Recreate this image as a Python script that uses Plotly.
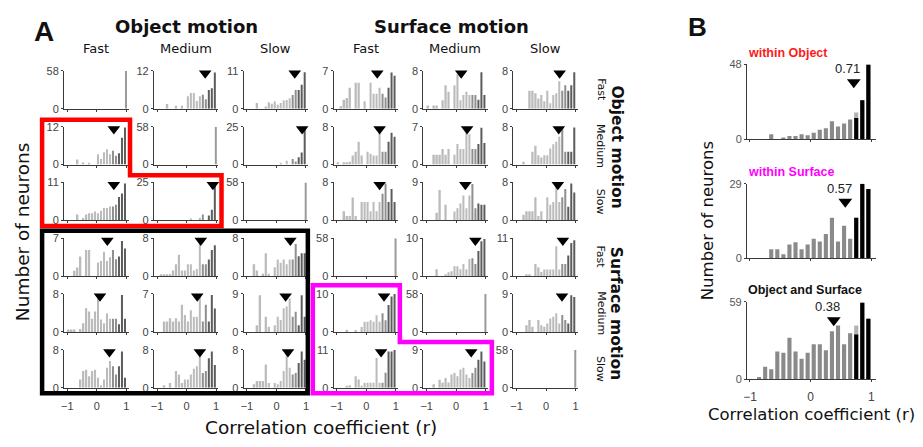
import plotly.graph_objects as go

# ---------------- DATA ----------------
bin_centers = [round(-0.95 + 0.1 * i, 2) for i in range(20)]
speeds = ["Fast", "Medium", "Slow"]
tick_vals = [-1, 0, 1]

diag_r = 1.0
diag_count = 58

# Panel A: rows = Object Fast/Medium/Slow, Surface Fast/Medium/Slow; cols same order
row1_counts = [
    None,
    [0, 0, 0, 1.5, 0, 0, 1, 0, 1, 0, 4, 5, 5, 2.5, 4, 4.5, 3, 6, 6.5, 11.5],
    [0, 0, 0, 1.7, 0, 0, 0.7, 1.9, 1.5, 2.1, 1.2, 1.7, 2.4, 2.6, 3.1, 4, 5.5, 5.5, 7, 10.6],
    [0, 0.5, 1.7, 2, 3.9, 0, 4.8, 4.8, 0, 1.4, 0, 4.8, 2.8, 2.8, 3.9, 2.8, 2.1, 3.9, 6.7, 6.1],
    [0.7, 0, 0.7, 0.7, 0, 1.8, 5, 3.6, 0, 5, 7.3, 1.8, 2.9, 3.6, 2.9, 2.9, 2.9, 1.9, 7.7, 2.9],
    [0, 0, 0, 0, 3.8, 3.8, 3.3, 2.2, 2.9, 1.6, 3.8, 1.2, 2.9, 3.3, 5.8, 3.8, 5, 3.8, 5, 7.7],
]
row2_counts = [
    [0, 0, 0, 1.6, 0, 0.7, 0, 0.5, 0, 0, 3.3, 1.8, 3.9, 4.9, 3.3, 4.4, 2.8, 3.6, 8.5, 11.7],
    None,
    [0, 0, 0, 0, 0, 0, 0, 0, 0, 0, 0, 1, 0, 2.6, 0, 3.7, 2, 4.8, 8, 25],
    [0.5, 0, 0.5, 0.5, 0.6, 1.9, 2.7, 4.8, 1.9, 0, 2.7, 2.3, 1.9, 1.9, 7.8, 2.7, 2.7, 4.8, 6.7, 5.9],
    [0, 0, 1.8, 1.8, 1.8, 2.9, 1.8, 2.9, 0, 1.8, 3.8, 2.9, 2.9, 7, 5.6, 2.9, 2.9, 3.8, 6.8, 4],
    [0, 0, 0.6, 0, 0, 2.7, 4, 2, 1.5, 2, 2, 3.4, 4.3, 4.8, 5.9, 7.8, 2.7, 2.7, 2.7, 7.8],
]
row3_counts = [
    [0, 0, 0, 1.7, 0, 0.7, 1.7, 2.1, 2.1, 2.6, 2.1, 2.8, 3.6, 3.6, 4, 4, 4.5, 6.8, 7.8, 10.7],
    [0, 0, 0, 0, 0, 0, 0, 0, 0, 0, 0, 1, 0, 0, 1.7, 3.8, 0, 3.2, 7, 25],
    None,
    [0, 0, 1.9, 0.9, 0.9, 4.8, 0.9, 0, 3.9, 3.9, 3.9, 1.9, 3.9, 1.9, 3.9, 5.6, 7.8, 3.9, 6.6, 3.9],
    [0, 0, 0, 1.8, 7.2, 0, 3.7, 0, 0, 2.1, 2.9, 4, 5.9, 2.9, 5.9, 8.6, 2.9, 4, 3.7, 3.7],
    [0, 0, 1.2, 1.9, 1.9, 1.9, 4.9, 0.9, 1.9, 0, 4.9, 3.3, 3.9, 8, 3.9, 4.9, 6.6, 2.9, 7.8, 5.9],
]
row4_counts = [
    [0, 0, 1, 1.6, 3.6, 0, 4.8, 4.8, 0, 0, 2.5, 2.8, 4.5, 2.8, 3.5, 4.8, 3.1, 3.6, 6.5, 5.1],
    [0, 0.4, 0.4, 0.4, 0.4, 1.2, 2.5, 4.5, 1.2, 1.2, 2.5, 2.5, 1.2, 1.5, 8, 2.5, 2.5, 3.5, 5.5, 6.5],
    [0, 0, 2.5, 1.2, 0, 0.5, 4.8, 0.5, 0, 1.9, 3.5, 2.8, 3.5, 2.5, 3.5, 3.5, 6.8, 4.2, 4.8, 4.8],
    None,
    [0, 0, 0, 1.8, 0, 0, 0.5, 1, 1.3, 2.6, 2.6, 1.8, 3.2, 1.8, 4.5, 4.7, 3.2, 6.6, 9.2, 9.8],
    [0, 0, 0, 0.5, 0.5, 0, 3.5, 2.6, 1.2, 1.9, 1.9, 1.9, 1.9, 8.7, 1.9, 3.5, 3.5, 6, 9.6, 10.4],
]
row5_counts = [
    [0.5, 0.5, 0.5, 0, 0.6, 1.8, 5, 4.3, 2.8, 4.3, 7.1, 2.6, 1.8, 3.9, 2.8, 2.8, 2.8, 1.6, 7.8, 2.8],
    [0, 0, 1.9, 1.9, 2.5, 1.9, 2.5, 1.9, 5, 3.1, 1.9, 4, 2.8, 2.8, 6.5, 1.9, 5, 1.9, 6.8, 4.3],
    [0, 0, 0, 1.6, 8.7, 0, 3.6, 1.2, 0, 1.6, 3.6, 2.8, 5.6, 6, 7.9, 3.6, 4.8, 1.6, 8.7, 3.6],
    [0, 0, 0, 0.6, 0, 0, 0.3, 0, 1.3, 2.7, 2.7, 3.1, 2.7, 4.4, 2.7, 4.9, 3.1, 7.1, 9.3, 10],
    None,
    [0, 0, 0, 1.6, 2.8, 1.2, 0, 2.8, 1.6, 1.2, 2, 3.2, 3.6, 4.4, 2, 4, 2.8, 2, 8.7, 8.3],
]
row6_counts = [
    [0, 0, 0, 0, 1.7, 3.5, 3.8, 2.4, 3.5, 3.8, 2.1, 0.5, 1.7, 4.2, 5.6, 4.5, 2.8, 4.5, 7.6, 2.1],
    [0, 0, 0.5, 0, 1, 0, 3.5, 2.8, 1, 1.7, 1.7, 2.8, 4, 4.5, 8, 3.1, 3.5, 6.2, 7.6, 4.8],
    [0, 0, 0.7, 1.4, 1.4, 1.4, 4.9, 1, 0, 1, 0.7, 1.4, 3.5, 8, 4.2, 2.8, 3.1, 5.2, 7.6, 5.9],
    [0, 0, 0, 0.5, 0.7, 0, 3.3, 2.4, 0.5, 1.4, 1.4, 1.4, 1.4, 8.6, 1.4, 1.4, 4.3, 10.5, 10.5, 11],
    [0, 0, 0.8, 0, 1.9, 1.2, 2.3, 1.2, 3.1, 3.5, 2.7, 4.3, 4.7, 3.1, 2.3, 3.5, 4.7, 6.6, 8.6, 6.2],
    None,
]
all_counts = [row1_counts, row2_counts, row3_counts, row4_counts, row5_counts, row6_counts]

ymax_labels = [
    [58, 12, 11, 7, 8, 8],
    [12, 58, 25, 8, 7, 8],
    [11, 25, 58, 8, 9, 8],
    [7, 8, 8, 58, 10, 11],
    [8, 7, 9, 10, 58, 9],
    [8, 8, 8, 11, 9, 58],
]
medians_A = [
    [None, 0.63, 0.62, 0.37, 0.17, 0.46],
    [0.58, None, 0.87, 0.45, 0.37, 0.43],
    [0.58, 0.89, None, 0.45, 0.31, 0.40],
    [0.36, 0.48, 0.47, None, 0.65, 0.57],
    [0.11, 0.36, 0.31, 0.60, None, 0.54],
    [0.43, 0.45, 0.39, 0.50, 0.51, None],
]

# Panel B
b_titles = ["within Object", "within Surface", "Object and Surface"]
b_title_colors = ["#ff1a1a", "#ff00ff", "#111111"]
b_total = [
    [0, 0, 0, 3, 0, 1, 2, 2, 3, 2.5, 4, 6, 7, 11.5, 8, 10, 12.5, 17, 25, 48],
    [0, 0, 0, 3.5, 3.5, 1.6, 5.4, 6.3, 3.5, 5.4, 7.6, 6.6, 9.5, 15.8, 6.6, 12.7, 7.6, 15.8, 29, 27],
    [0, 1.5, 9.4, 7.4, 21, 20, 31.5, 21, 15.4, 20, 26.5, 26.5, 22, 36.5, 41, 26.5, 35, 41, 58.3, 46],
]
b_black = [
    [0] * 17 + [13.5, 25, 48],
    [0] * 17 + [15.8, 29, 27],
    [0] * 17 + [34, 58.3, 46],
]
b_ymax = [48, 29, 59]
b_medians = [0.71, 0.57, 0.38]

# ---------------- LAYOUT HELPERS ----------------
W, H = 923, 447


def fx(x):
    return x / W


def fy(y):
    return 1 - y / H


fig = go.Figure()
layout = dict(
    width=W, height=H, autosize=False,
    margin=dict(l=0, r=0, t=0, b=0),
    paper_bgcolor="white", plot_bgcolor="white",
    showlegend=False, barmode="overlay",
    font=dict(family="Liberation Sans, Arial, sans-serif", color="#333"),
)
annotations = []
AX = "#3a3a3a"
TICKFONT = dict(family="Liberation Sans, Arial", size=11, color="#444")


def axname(n):
    return ("", "") if n == 1 else (str(n), str(n))


def bar_color(i):
    if i >= 17:
        return "#5c5c5c"
    if i >= 15:
        return "#8f8f8f"
    return "#bbbbbb"


n = 0
for r in range(6):
    top = 66.7 + 57.3 * r
    bot = top + 39
    for c in range(6):
        n += 1
        sx, sy = axname(n)
        left = 60.3 + 90.35 * c
        right = left + 65
        ymax = ymax_labels[r][c]
        counts = all_counts[r][c]
        if counts is None:
            fig.add_trace(go.Bar(x=[diag_r], y=[diag_count], width=0.035,
                                 marker=dict(color="#9a9a9a", line=dict(width=0)),
                                 xaxis="x" + sx, yaxis="y" + sy, hoverinfo="skip"))
        else:
            fig.add_trace(go.Bar(x=bin_centers, y=counts, width=0.055,
                                 marker=dict(color=[bar_color(i) for i in range(20)], line=dict(width=0)),
                                 xaxis="x" + sx, yaxis="y" + sy, hoverinfo="skip"))
        med = medians_A[r][c]
        if med is not None:
            fig.add_trace(go.Scatter(x=[med], y=[ymax * 0.94], mode="markers",
                                     marker=dict(symbol="triangle-down", size=11, color="black"),
                                     cliponaxis=False, xaxis="x" + sx, yaxis="y" + sy, hoverinfo="skip"))
        layout["xaxis" + sx] = dict(
            domain=[fx(left), fx(right)], anchor="y" + sy, range=[-1.11, 1.08],
            showline=True, linecolor=AX, linewidth=1, ticks="outside", ticklen=2,
            tickcolor=AX, tickvals=tick_vals, showticklabels=(r == 5),
            ticklabelstandoff=6,
            tickfont=TICKFONT, showgrid=False, zeroline=False, fixedrange=True)
        layout["yaxis" + sy] = dict(
            domain=[fy(bot), fy(top)], anchor="x" + sx, range=[0, ymax],
            showline=True, linecolor=AX, linewidth=1, ticks="outside", ticklen=2,
            tickcolor=AX, tickvals=[0, ymax], tickfont=TICKFONT,
            showgrid=False, zeroline=False, fixedrange=True)

# Panel B
b_tops = [60, 182.7, 304]
b_bots = [136.7, 259.3, 383.3]
for k in range(3):
    n += 1
    sx, sy = axname(n)
    fig.add_trace(go.Bar(x=bin_centers, y=b_total[k], width=0.068,
                         marker=dict(color=["#b3b3b3" if i == 17 else "#8a8a8a" for i in range(20)],
                                     line=dict(width=0)),
                         xaxis="x" + sx, yaxis="y" + sy, hoverinfo="skip"))
    fig.add_trace(go.Bar(x=bin_centers, y=b_black[k], width=0.068,
                         marker=dict(color="black", line=dict(width=0)),
                         xaxis="x" + sx, yaxis="y" + sy, hoverinfo="skip"))
    fig.add_trace(go.Scatter(x=[b_medians[k]], y=[b_ymax[k] * 0.76], mode="markers",
                             marker=dict(symbol="triangle-down", size=12, color="black"),
                             cliponaxis=False, xaxis="x" + sx, yaxis="y" + sy, hoverinfo="skip"))
    annotations.append(dict(x=b_medians[k], y=b_ymax[k] * 0.94, xref="x" + sx, yref="y" + sy,
                            text=f"{b_medians[k]:.2f}", showarrow=False, xshift=-6,
                            font=dict(family="Liberation Sans, Arial", size=13, color="#222")))
    layout["xaxis" + sx] = dict(
        domain=[fx(747), fx(877)], anchor="y" + sy, range=[-1.05, 1.08],
        showline=True, linecolor=AX, linewidth=1, ticks="outside", ticklen=2,
        tickcolor=AX, tickvals=tick_vals, showticklabels=(k == 2),
        ticklabelstandoff=5,
        tickfont=dict(family="Liberation Sans, Arial", size=12, color="#444"),
        showgrid=False, zeroline=False, fixedrange=True)
    layout["yaxis" + sy] = dict(
        domain=[fy(b_bots[k]), fy(b_tops[k])], anchor="x" + sx, range=[0, b_ymax[k]],
        showline=True, linecolor=AX, linewidth=1, ticks="outside", ticklen=2,
        tickcolor=AX, tickvals=[0, b_ymax[k]],
        tickfont=dict(family="Liberation Sans, Arial", size=11, color="#555"),
        showgrid=False, zeroline=False, fixedrange=True)
    annotations.append(dict(x=fx(746), y=fy(b_tops[k] - 12), xref="paper", yref="paper",
                            xanchor="left", yanchor="middle", text=f"<b>{b_titles[k]}</b>",
                            showarrow=False,
                            font=dict(family="Liberation Sans, Arial", size=12.5, color=b_title_colors[k])))

# ---------------- TEXT ----------------
TITLE_FONT = "DejaVu Sans, Verdana, sans-serif"


def add_text(x, y, text, size, bold=False, angle=0, color="#111", family=TITLE_FONT):
    annotations.append(dict(x=fx(x), y=fy(y), xref="paper", yref="paper", text=(f"<b>{text}</b>" if bold else text),
                            showarrow=False, textangle=angle, xanchor="center", yanchor="middle",
                            font=dict(family=family, size=size, color=color)))


add_text(40, 26, "A", 28, bold=True, family="Liberation Sans, Arial")
add_text(697, 22, "B", 26, bold=True, family="Liberation Sans, Arial")
add_text(183, 21, "Object motion", 18, bold=True)
add_text(450, 21, "Surface motion", 18, bold=True)
col_centers = [92.5 + 90.35 * c for c in range(6)]
for c in range(6):
    add_text(col_centers[c], 44, speeds[c % 3], 13)
row_centers = [86.2 + 57.3 * r for r in range(6)]
for r in range(6):
    add_text(600, row_centers[r], speeds[r % 3], 11, angle=90)
add_text(616, 145, "Object motion", 15.5, bold=True, angle=90)
add_text(616, 316, "Surface motion", 15.5, bold=True, angle=90)
add_text(18.5, 232, "Number of neurons", 18.5, angle=-90)
add_text(319, 433, "Correlation coefficient (r)", 18.5)
add_text(707, 221, "Number of neurons", 16.5, angle=-90)
add_text(812, 420, "Correlation coefficient (r)", 16.5)

layout["annotations"] = annotations


# ---------------- OUTLINES ----------------
def path(pts):
    s = "M " + " L ".join(f"{fx(x):.5f},{fy(y):.5f}" for x, y in pts) + " Z"
    return s


red_pts = [(38.3, 117), (126.7, 117), (126.7, 174), (218.7, 174), (218.7, 226), (38.3, 226)]
black_pts = [(38.3, 231), (305.5, 231), (305.5, 398), (38.3, 398)]
mag_pts = [(310.5, 287), (398, 287), (398, 345.3), (490.5, 345.3), (490.5, 398), (310.5, 398)]
layout["shapes"] = [
    dict(type="path", path=path(red_pts), xref="paper", yref="paper", line=dict(color="#ff0000", width=4.5)),
    dict(type="path", path=path(black_pts), xref="paper", yref="paper", line=dict(color="#000000", width=4.5)),
    dict(type="path", path=path(mag_pts), xref="paper", yref="paper", line=dict(color="#ff00ff", width=4.5)),
]

fig.update_layout(**layout)
fig.write_html("out.html", config={"displayModeBar": False},
               post_script="document.body.style.margin='0px';document.body.style.overflow='hidden';")
